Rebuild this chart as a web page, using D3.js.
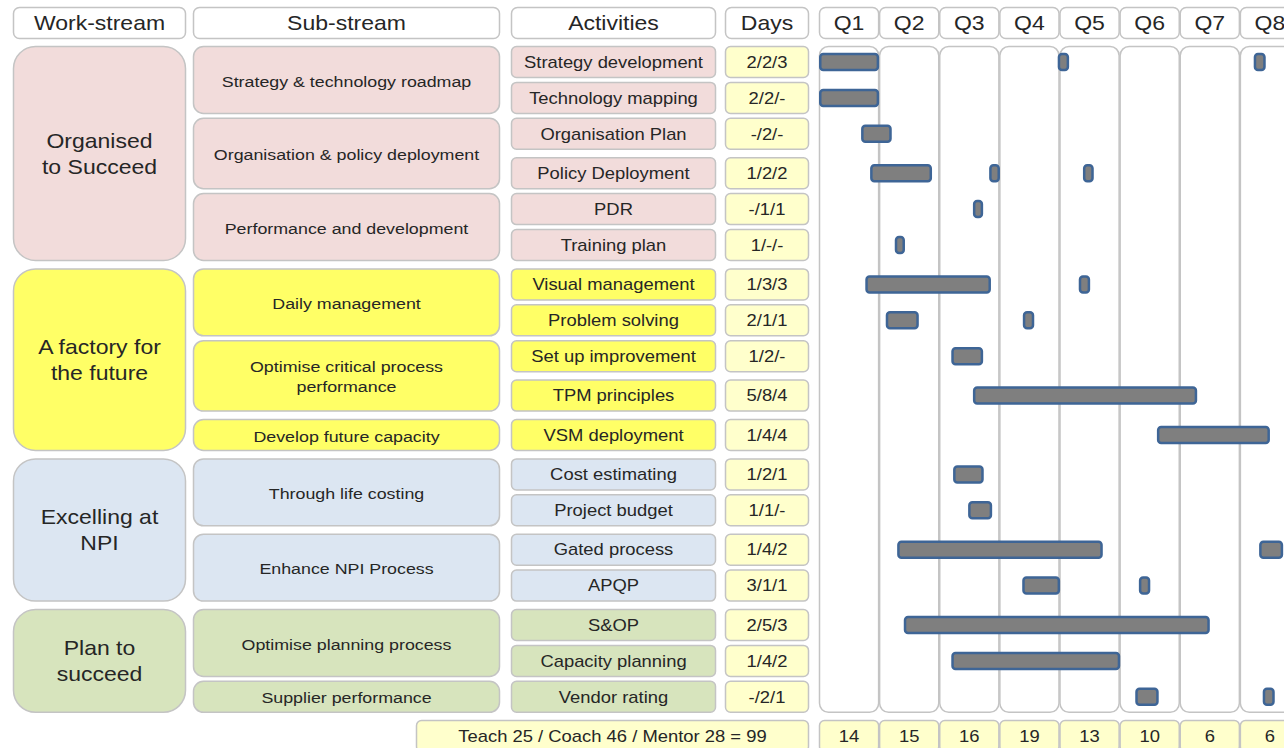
<!DOCTYPE html>
<html>
<head>
<meta charset="utf-8">
<script src="https://cdn.jsdelivr.net/npm/d3@7"></script>
<style>
  body { margin: 0; background: #fff; }
  svg { display: block; font-family: "Liberation Sans", Arial, sans-serif; }
</style>
</head>
<body>
<svg id="plan"></svg>
<script>
// column headers
var headers = ["Work-stream", "Sub-stream", "Activities", "Days"];
var quarters = ["Q1", "Q2", "Q3", "Q4", "Q5", "Q6", "Q7", "Q8"];

// work-streams (text split in lines as on the slide)
var workStreams = [
  ["Organised", "to Succeed"],
  ["A factory for", "the future"],
  ["Excelling at", "NPI"],
  ["Plan to", "succeed"]
];

var subStreams = [
  ["Strategy & technology roadmap"],
  ["Organisation & policy deployment"],
  ["Performance and development"],
  ["Daily management"],
  ["Optimise critical process", "performance"],
  ["Develop future capacity"],
  ["Through life costing"],
  ["Enhance NPI Process"],
  ["Optimise planning process"],
  ["Supplier performance"]
];
// which work-stream each sub-stream belongs to
var subStreamWork = [0, 0, 0, 1, 1, 1, 2, 2, 3, 3];

var activities = [
  "Strategy development", "Technology mapping", "Organisation Plan", "Policy Deployment",
  "PDR", "Training plan", "Visual management", "Problem solving", "Set up improvement",
  "TPM principles", "VSM deployment", "Cost estimating", "Project budget",
  "Gated process", "APQP", "S&OP", "Capacity planning", "Vendor rating"
];
// which sub-stream each activity belongs to
var activitySub = [0, 0, 1, 1, 2, 2, 3, 3, 4, 4, 5, 6, 6, 7, 7, 8, 8, 9];

var days = [
  "2/2/3", "2/2/-", "-/2/-", "1/2/2", "-/1/1", "1/-/-", "1/3/3", "2/1/1", "1/2/-",
  "5/8/4", "1/4/4", "1/2/1", "1/1/-", "1/4/2", "3/1/1", "2/5/3", "1/4/2", "-/2/1"
];

// bars: activity row, start and end in quarters (0 = start of Q1)
var bars = [
  [0, 0, 1], [0, 3.97, 4.16], [0, 7.23, 7.43],
  [1, 0, 1],
  [2, 0.70, 1.21],
  [3, 0.85, 1.88], [3, 2.83, 3.01], [3, 4.39, 4.57],
  [4, 2.56, 2.73],
  [5, 1.26, 1.43],
  [6, 0.77, 2.86], [6, 4.32, 4.51],
  [7, 1.11, 1.66], [7, 3.39, 3.58],
  [8, 2.20, 2.73],
  [9, 2.56, 6.29],
  [10, 5.62, 7.50],
  [11, 2.23, 2.74],
  [12, 2.48, 2.88],
  [13, 1.30, 4.72], [13, 7.32, 7.72],
  [14, 3.38, 4.01], [14, 5.32, 5.51],
  [15, 1.41, 6.50],
  [16, 2.20, 5.01],
  [17, 5.26, 5.65], [17, 7.38, 7.58]
];

var quarterTotals = [14, 15, 16, 19, 13, 10, 6, 6];
var footerText = "Teach 25 / Coach 46 / Mentor 28 = 99";

// styles
var wsColors = ["#f2dcdb", "#ffff66", "#dce6f2", "#d7e4bd"];
var daysColor = "#ffffcc";
var boxStroke = "#c4c4c4";
var textColor = "#262626";
var stretch = 1.15; // slide text is a bit wider than Arial

var W = 1284, H = 748;
var svg = d3.select("#plan").attr("width", W).attr("height", H);

// layout
var cols = {
  ws:  [13, 186],
  ss:  [193, 500],
  act: [511, 716],
  day: [725, 809]
};
var headY = 7, headH = 32;
var rowTop0 = 46, rowStep = 35.9, rowH = 32, extraGap = 3.5;
// slide rows are not evenly spaced: a little extra room after these rows
var rowGapAfter = [0, 0, 1, 0, 0, 1, 0, 0, 1, 1, 1, 0, 1, 0, 1, 0, 0, 0];
var footY = 720, footH = 32;

var xScale = d3.scaleLinear().domain([0, 8]).range([819, 1300]);
var rowScale = d3.scaleLinear().domain([0, 1]).range([rowTop0, rowTop0 + rowStep]);

function wsOfRow(i){ return subStreamWork[activitySub[i]]; }
function rowTop(i){ return rowScale(i) + extraGap * d3.sum(rowGapAfter.slice(0, i)); }
function rowBottom(i){ return rowTop(i) + rowH; }

function box(g, x0, x1, y0, y1, rx, fill){
  g.append("rect")
    .attr("x", x0 + 0.5).attr("y", y0 + 0.5)
    .attr("width", x1 - x0 - 1).attr("height", y1 - y0 - 1)
    .attr("rx", rx).attr("ry", rx)
    .attr("fill", fill)
    .attr("stroke", boxStroke)
    .attr("stroke-width", 1.5);
}

function label(g, lines, cx, cy, size, lineH){
  var n = lines.length;
  lines.forEach(function(t, k){
    var y = cy + (k - (n - 1) / 2) * lineH;
    g.append("text")
      .attr("transform", "translate(" + cx + "," + y + ") scale(" + stretch + ",1)")
      .attr("text-anchor", "middle")
      .attr("dy", "0.36em")
      .attr("font-size", size)
      .attr("fill", textColor)
      .text(t);
  });
}

var gBox = svg.append("g");
var gText = svg.append("g");

// header row
headers.forEach(function(h, i){
  var c = cols[["ws", "ss", "act", "day"][i]];
  box(gBox, c[0], c[1], headY, headY + headH, 6, "#fff");
  label(gText, [h], (c[0] + c[1]) / 2, headY + headH / 2, 20, 0);
});
quarters.forEach(function(q, i){
  var x0 = xScale(i), x1 = xScale(i + 1);
  box(gBox, x0, x1, headY, headY + headH, 6, "#fff");
  label(gText, [q], (x0 + x1) / 2, headY + headH / 2, 20, 0);
  // body column
  box(gBox, x0, x1, rowTop0, rowBottom(activities.length - 1), 9, "#fff");
  // footer total
  box(gBox, x0, x1, footY, footY + footH, 5, daysColor);
  label(gText, [String(quarterTotals[i])], (x0 + x1) / 2, footY + 16, 16, 0);
});

// work-streams
workStreams.forEach(function(ws, w){
  var rows = d3.range(activities.length).filter(function(i){ return wsOfRow(i) === w; });
  var y0 = rowTop(rows[0]), y1 = rowBottom(rows[rows.length - 1]);
  box(gBox, cols.ws[0], cols.ws[1], y0, y1, 22, wsColors[w]);
  label(gText, ws, (cols.ws[0] + cols.ws[1]) / 2, (y0 + y1) / 2, 20, 26);
});

// sub-streams
subStreams.forEach(function(ss, s){
  var rows = d3.range(activities.length).filter(function(i){ return activitySub[i] === s; });
  var y0 = rowTop(rows[0]), y1 = rowBottom(rows[rows.length - 1]);
  box(gBox, cols.ss[0], cols.ss[1], y0, y1, 10, wsColors[subStreamWork[s]]);
  label(gText, ss, (cols.ss[0] + cols.ss[1]) / 2, (y0 + y1) / 2 + 1, 15.5, 20);
});

// activities and days
activities.forEach(function(a, i){
  var y0 = rowTop(i), y1 = rowBottom(i);
  box(gBox, cols.act[0], cols.act[1], y0, y1, 5, wsColors[wsOfRow(i)]);
  label(gText, [a], (cols.act[0] + cols.act[1]) / 2, (y0 + y1) / 2, 16, 0);
  box(gBox, cols.day[0], cols.day[1], y0, y1, 5, daysColor);
  label(gText, [days[i]], (cols.day[0] + cols.day[1]) / 2, (y0 + y1) / 2, 16, 0);
});

// footer
box(gBox, 416, cols.day[1], footY, footY + footH, 5, daysColor);
label(gText, [footerText], (416 + cols.day[1]) / 2, footY + 16, 16, 0);

// gantt bars
var barH = 16;
svg.append("g").selectAll("rect")
  .data(bars)
  .enter()
  .append("rect")
    .attr("x", function(d){ return xScale(d[1]) + 1.25; })
    .attr("width", function(d){ return Math.max(2, xScale(d[2]) - xScale(d[1]) - 2.5); })
    .attr("y", function(d){ return rowTop(d[0]) + rowH / 2 - barH / 2; })
    .attr("height", barH)
    .attr("rx", 3).attr("ry", 3)
    .attr("fill", "#7f7f7f")
    .attr("stroke", "#3e6596")
    .attr("stroke-width", 2.5);
</script>
</body>
</html>
